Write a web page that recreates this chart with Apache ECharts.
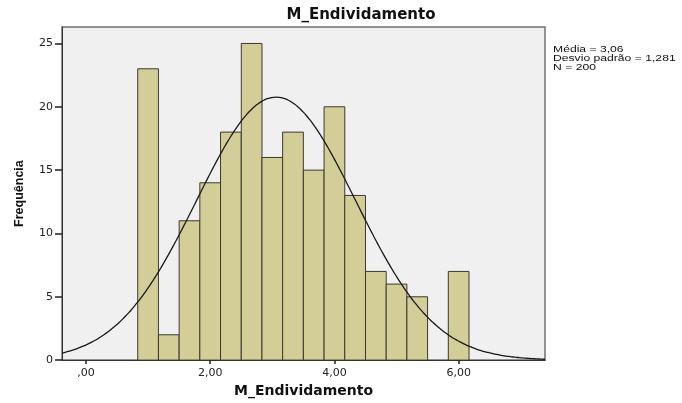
<!DOCTYPE html>
<html>
<head>
<meta charset="utf-8">
<script src="https://cdn.jsdelivr.net/npm/echarts@6/dist/echarts.min.js"></script>
<style>
html,body{margin:0;padding:0;background:#fff;}
#chart{width:682px;height:403px;}
</style>
</head>
<body>
<div id="chart"></div>
<script>
// ---- data ----
const binCenters = [1.000, 1.333, 1.667, 2.000, 2.333, 2.667, 3.000, 3.333, 3.667, 4.000, 4.333, 4.667, 5.000, 5.333, 5.667, 6.000];
const frequencies = [23, 2, 11, 14, 18, 25, 16, 18, 15, 20, 13, 7, 6, 5, 0, 7];
const binWidth = 1 / 3;
const xTickValues = [0, 2, 4, 6];
const xTickLabels = [',00', '2,00', '4,00', '6,00'];
const yTickValues = [0, 5, 10, 15, 20, 25];
const statsLines = ['Média = 3,06', 'Desvio padrão = 1,281', 'N = 200'];
const MEAN = 3.06, SD = 1.281, N = 200;
const X_MIN = -0.386, X_MAX = 7.39, Y_MAX = 26.3;

// histogram rectangles
const barData = binCenters.map((c, i) => [c - binWidth / 2, c + binWidth / 2, frequencies[i]]);

// fitted normal curve (SPSS: N * binWidth * normal density)
const curveData = [];
for (let k = 0; k <= 160; k++) {
  const x = X_MIN + (X_MAX - X_MIN) * k / 160;
  const z = (x - MEAN) / SD;
  curveData.push([x, N * binWidth * Math.exp(-0.5 * z * z) / (SD * Math.sqrt(2 * Math.PI))]);
}

const chart = echarts.init(document.getElementById('chart'), null, {renderer: 'canvas'});
chart.setOption({
  animation: false,
  backgroundColor: '#ffffff',
  title: {
    text: 'M_Endividamento',
    left: 361, top: 8, textAlign: 'center', padding: 0,
    textStyle: {fontFamily: 'DejaVu Sans', fontWeight: 'bold', fontSize: 15, color: '#111'}
  },
  grid: {
    left: 62, right: 137, top: 27, bottom: 39,
    show: true, backgroundColor: '#f0f0f0', borderColor: '#707070', borderWidth: 1.5
  },
  xAxis: {
    type: 'value', min: X_MIN, max: X_MAX,
    name: 'M_Endividamento', nameLocation: 'middle', nameGap: 22,
    nameTextStyle: {fontFamily: 'DejaVu Sans', fontWeight: 'bold', fontSize: 14, color: '#111'},
    axisLine: {show: true, onZero: false, lineStyle: {color: '#333', width: 1}},
    axisTick: {show: true, inside: false, length: 4, customValues: xTickValues, lineStyle: {color: '#222', width: 1.5}},
    axisLabel: {
      customValues: xTickValues, margin: 8,
      fontFamily: 'DejaVu Sans', fontSize: 11, color: '#222',
      formatter: v => xTickLabels[xTickValues.indexOf(Math.round(v))]
    },
    splitLine: {show: false}
  },
  yAxis: {
    type: 'value', min: 0, max: Y_MAX,
    name: 'Frequência', nameLocation: 'middle', nameGap: 36,
    nameTextStyle: {fontFamily: 'Liberation Sans', fontWeight: 'bold', fontSize: 12.5, color: '#111'},
    axisLine: {show: true, onZero: false, lineStyle: {color: '#333', width: 1}},
    axisTick: {show: true, inside: false, length: 7, customValues: yTickValues, lineStyle: {color: '#222', width: 1.5}},
    axisLabel: {customValues: yTickValues, margin: 9, fontFamily: 'DejaVu Sans', fontSize: 11, color: '#222'},
    splitLine: {show: false}
  },
  series: [
    {
      type: 'custom',
      clip: true,
      data: barData,
      encode: {x: [0, 1], y: 2},
      renderItem: function (params, api) {
        const h = api.value(2);
        if (!h) return null;
        const p0 = api.coord([api.value(0), h]);
        const p1 = api.coord([api.value(1), 0]);
        return {
          type: 'rect',
          shape: {x: p0[0], y: p0[1], width: p1[0] - p0[0], height: p1[1] - p0[1]},
          style: {fill: '#d3ce97', stroke: '#3b3a2e', lineWidth: 1}
        };
      },
      z: 2
    },
    {
      type: 'line',
      data: curveData,
      showSymbol: false,
      smooth: true,
      lineStyle: {color: '#1a1a1a', width: 1.3},
      z: 3
    }
  ],
  graphic: [
    {
      type: 'text',
      x: 553, y: 45.5,
      scaleX: 1.43,
      style: {
        text: statsLines.join('\n'),
        font: '8.5px "Liberation Sans"',
        lineHeight: 9,
        fill: '#111',
        verticalAlign: 'top'
      }
    }
  ]
});
</script>
</body>
</html>
